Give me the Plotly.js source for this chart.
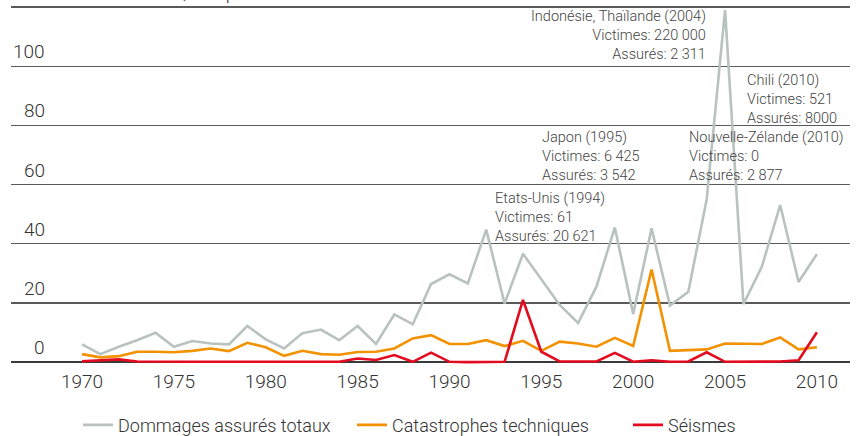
<!DOCTYPE html>
<html>
<head>
<meta charset="utf-8">
<script src="https://cdn.plot.ly/plotly-3.0.1.min.js"></script>
<style>html,body{margin:0;padding:0;background:#fff;}#chart{width:857px;height:436px;}</style>
</head>
<body>
<div id="chart"></div>
<script>
const years = [1970,1971,1972,1973,1974,1975,1976,1977,1978,1979,1980,1981,1982,1983,1984,1985,1986,1987,1988,1989,1990,1991,1992,1993,1994,1995,1996,1997,1998,1999,2000,2001,2002,2003,2004,2005,2006,2007,2008,2009,2010];
const totalDamage = [6.0,2.7,5.2,7.4,9.9,5.2,7.1,6.3,6.0,12.2,7.7,4.6,9.8,11.0,7.4,12.2,6.1,16.1,12.8,26.4,29.7,26.6,44.8,19.8,36.6,28.0,19.3,13.2,25.5,45.5,16.3,45.2,19.1,23.8,55.0,119.0,19.6,32.2,53.1,27.1,36.5];
const techCatastrophes = [2.7,1.6,2.0,3.5,3.5,3.3,3.8,4.6,3.7,6.5,5.0,2.1,3.8,2.7,2.5,3.4,3.5,4.6,8.0,9.1,6.1,6.1,7.4,5.4,7.2,3.8,6.9,6.3,5.2,8.2,5.5,31.3,3.8,4.1,4.3,6.3,6.1,6.1,8.3,4.3,5.0];
const earthquakes = [0.3,0.5,0.9,0.2,0.1,0.1,0.1,0.1,0.1,0.1,0.1,0.1,0.1,0.1,0.1,1.2,0.7,2.4,0.1,3.2,0.1,0.0,0.0,0.1,21.0,3.5,0.2,0.2,0.2,3.1,0.1,0.6,0.1,0.2,3.3,0.1,0.1,0.2,0.2,0.6,10.1];
const seriesNames = ["Dommages assurés totaux","Catastrophes techniques","Séismes"];
const xTickVals = [1970,1975,1980,1985,1990,1995,2000,2005,2010];
const yTickVals = [0,20,40,60,80,100,120];
const yTickLabels = ["0","20","40","60","80","100","120"];
const unitLabel = "en Mrd USD, aux prix de 2010";
const eventTexts = [
  "Indonésie, Thaïlande (2004)<br>Victimes: 220 000<br>Assurés: 2 311",
  "Chili (2010)<br>Victimes: 521<br>Assurés: 8000",
  "Japon (1995)<br>Victimes: 6 425<br>Assurés: 3 542",
  "Nouvelle-Zélande (2010)<br>Victimes: 0<br>Assurés: 2 877",
  "Etats-Unis (1994)<br>Victimes: 61<br>Assurés: 20 621"
];
const eventX = [2004.08, 2006.1, 1994.93, 2002.93, 1992.37];
const eventY = [120.5, 98.7, 79.6, 79.6, 59.0];
const eventAnchor = ["right","left","left","left","left"];

const FONT = "Roboto, 'Liberation Sans', sans-serif";
const colors = ["#b8c2bf","#f39200","#e30b1f"];
const legendOf = ["legend","legend","legend2"];
const seriesData = [totalDamage, techCatastrophes, earthquakes];

const traces = seriesData.map((ys,i)=>({
  x: years, y: ys, type: "scatter", mode: "lines", name: seriesNames[i], legend: legendOf[i],
  line: {color: colors[i], width: 2.6}
}));

const annotations = [];
yTickVals.forEach((v,i)=>{
  annotations.push({xref:"paper", yref:"y", x:(47-11)/839, y:v, xanchor:"right", yanchor:"bottom",
    yshift:1, text:yTickLabels[i], showarrow:false, font:{family:FONT, size:19, color:"#333", weight:300}});
});
annotations.push({xref:"paper", yref:"y", x:(83-11)/839, y:yTickVals[yTickVals.length-1], xanchor:"left", yanchor:"bottom",
  yshift:1, text:unitLabel, showarrow:false, font:{family:FONT, size:19, color:"#333", weight:300}});
eventTexts.forEach((t,i)=>{
  annotations.push({xref:"x", yref:"y", x:eventX[i], y:eventY[i], xanchor:eventAnchor[i], yanchor:"top",
    align:eventAnchor[i], text:t, showarrow:false, font:{family:FONT, size:14.5, color:"#444", weight:300}});
});

const legendFont = {family: FONT, size: 18, color: "#333", weight: 300};
const layout = {
  width: 857, height: 436,
  margin: {l: 11, r: 7, t: 4, b: 68, autoexpand: false},
  paper_bgcolor: "#fff", plot_bgcolor: "#fff",
  showlegend: true,
  legend: {orientation: "h", x: (78-11)/839, xanchor: "left", y: -0.157, yanchor: "middle",
    entrywidth: 229, entrywidthmode: "pixels", traceorder: "normal", font: legendFont},
  legend2: {orientation: "h", x: (628-11)/839, xanchor: "left", y: -0.157, yanchor: "middle",
    traceorder: "normal", font: legendFont},
  xaxis: {range: [1966.135, 2011.8], tickvals: xTickVals, ticks: "", showgrid: false, zeroline: false,
    showline: false, tickfont: {family: FONT, size: 19, color: "#333", weight: 300}, fixedrange: true},
  yaxis: {range: [-2, 121.06], tickvals: yTickVals, showticklabels: false, ticks: "",
    showgrid: true, gridcolor: "#5a5a5a", gridwidth: 1.4,
    zeroline: true, zerolinecolor: "#3a3a3a", zerolinewidth: 1.6, showline: false, fixedrange: true},
  annotations: annotations
};

Plotly.newPlot("chart", [traces[0], traces[1], traces[2]], layout, {displayModeBar: false, staticPlot: true});
</script>
</body>
</html>
